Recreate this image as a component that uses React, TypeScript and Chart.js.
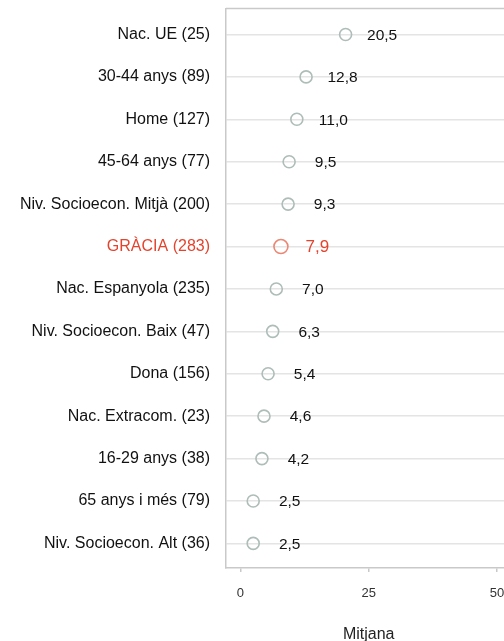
import React, { useEffect, useRef } from "react";
import { Chart, registerables } from "chart.js";

Chart.register(...registerables);

const categories: string[] = [
  "Nac. UE (25)",
  "30-44 anys (89)",
  "Home (127)",
  "45-64 anys (77)",
  "Niv. Socioecon. Mitjà (200)",
  "GRÀCIA (283)",
  "Nac. Espanyola (235)",
  "Niv. Socioecon. Baix (47)",
  "Dona (156)",
  "Nac. Extracom. (23)",
  "16-29 anys (38)",
  "65 anys i més (79)",
  "Niv. Socioecon. Alt (36)",
];
const values: number[] = [20.5, 12.8, 11.0, 9.5, 9.3, 7.9, 7.0, 6.3, 5.4, 4.6, 4.2, 2.5, 2.5];
const xTicks: number[] = [0, 25, 50];
const highlightIndex = 5;
const axisTitle = "Mitjana";

const FONT = "'Liberation Sans', Arial, Helvetica, sans-serif";
const RED = "#e4432d";
const RED_POINT = "#ec8774";
const GRAY_POINT = "#aebdb9";
const FRAME = "#c9c9c9";
const GRID = "#e4e4e4";

const fmt = (v: number) => v.toFixed(1).replace(".", ",");

export default function App() {
  const ref = useRef<HTMLCanvasElement | null>(null);
  useEffect(() => {
    if (!ref.current) return;
    const framePlugin = {
      id: "frameTop",
      afterDraw(chart: any) {
        const { ctx, chartArea } = chart;
        ctx.save();
        ctx.strokeStyle = FRAME;
        ctx.lineWidth = 1.5;
        ctx.beginPath();
        ctx.moveTo(chartArea.left, chartArea.top);
        ctx.lineTo(chartArea.right, chartArea.top);
        ctx.stroke();
        ctx.restore();
      },
    };
    const labelPlugin = {
      id: "valueLabels",
      afterDatasetsDraw(chart: any) {
        const { ctx } = chart;
        const meta = chart.getDatasetMeta(0);
        ctx.save();
        ctx.textBaseline = "middle";
        ctx.textAlign = "center";
        meta.data.forEach((el: any, i: number) => {
          const hi = i === highlightIndex;
          ctx.fillStyle = hi ? RED : "#111";
          ctx.font = `${hi ? 17 : 15.5}px ${FONT}`;
          ctx.fillText(fmt(values[i]), el.x + 36.5, el.y + 1);
        });
        ctx.restore();
      },
    };
    const chart = new Chart(ref.current, {
      type: "scatter",
      data: {
        datasets: [
          {
            data: values.map((v, i) => ({ x: v, y: i })),
            pointRadius: values.map((_, i) => (i === highlightIndex ? 7 : 6)),
            pointBorderWidth: 1.6,
            borderColor: values.map((_, i) => (i === highlightIndex ? RED_POINT : GRAY_POINT)),
            backgroundColor: "rgba(0,0,0,0)",
          } as any,
        ],
      },
      options: {
        animation: false,
        responsive: false,
        events: [],
        layout: { padding: { top: 8, right: 6, left: 0, bottom: 0 } },
        plugins: { legend: { display: false }, tooltip: { enabled: false } },
        scales: {
          x: {
            type: "linear",
            position: "bottom",
            min: -2.8,
            max: 52.8,
            afterBuildTicks: (axis: any) => {
              axis.ticks = xTicks.map((v) => ({ value: v }));
            },
            afterFit: (axis: any) => {
              axis.height = 73;
              axis.paddingLeft = 0;
              axis.paddingRight = 0;
            },
            grid: { drawOnChartArea: false, drawTicks: true, tickLength: 4, color: FRAME, lineWidth: 1.5 },
            border: { display: true, color: FRAME, width: 1.5 },
            ticks: {
              font: { size: 13, family: FONT },
              color: "#333",
              padding: 13.5,
              maxRotation: 0,
              callback: (v: any) => String(v),
            },
            title: {
              display: true,
              text: axisTitle,
              font: { size: 16, family: FONT, lineHeight: 0.75 },
              color: "#222",
              padding: { top: 0, bottom: 0 },
            },
          },
          y: {
            type: "linear",
            reverse: true,
            min: -0.61,
            max: 12.58,
            afterBuildTicks: (axis: any) => {
              axis.ticks = categories.map((_, i) => ({ value: i }));
            },
            afterFit: (axis: any) => {
              axis.width = 226;
              axis.paddingTop = 0;
              axis.paddingBottom = 0;
            },
            grid: { color: GRID, lineWidth: 1.5, drawTicks: false },
            border: { display: true, color: FRAME, width: 1.5 },
            ticks: {
              autoSkip: false,
              padding: 16,
              font: { size: 16, family: FONT },
              color: (c: any) => (c.tick && c.tick.value === highlightIndex ? RED : "#111"),
              callback: (v: any) => categories[v as number] ?? "",
            },
          },
        },
      } as any,
      plugins: [framePlugin, labelPlugin],
    });
    return () => chart.destroy();
  }, []);
  return (
    <div
      style={{
        position: "fixed",
        left: 0,
        top: 0,
        width: 504,
        height: 641,
        overflow: "hidden",
        background: "#fff",
      }}
    >
      <canvas ref={ref} width={520} height={641} style={{ width: 520, height: 641, display: "block" }} />
    </div>
  );
}
